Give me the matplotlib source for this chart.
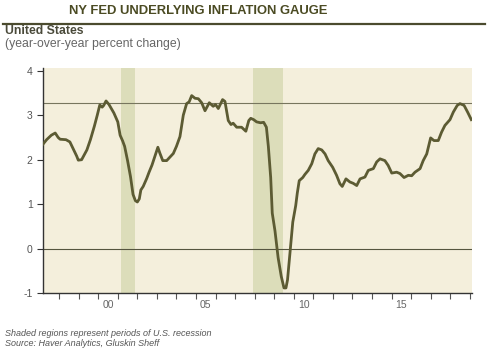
import matplotlib
matplotlib.use("Agg")
import matplotlib.pyplot as plt
from matplotlib.ticker import FixedLocator, NullFormatter, FixedFormatter

plt.rcParams['font.family'] = ['Liberation Sans Narrow', 'Liberation Sans', 'DejaVu Sans']

years = [1997.14, 1997.36, 1997.60, 1997.80, 1997.95, 1998.05, 1998.35, 1998.55, 1998.75, 1998.90,
         1998.98, 1999.15, 1999.30, 1999.42, 1999.60, 1999.80, 1999.95, 2000.08, 2000.20, 2000.28,
         2000.40, 2000.55, 2000.80, 2001.00, 2001.12, 2001.25, 2001.35, 2001.50, 2001.65, 2001.78,
         2001.90, 2002.00, 2002.10, 2002.18, 2002.30, 2002.48, 2002.60, 2002.75, 2002.90, 2003.05,
         2003.15, 2003.30, 2003.50, 2003.67, 2003.84, 2004.00, 2004.18, 2004.35, 2004.52, 2004.65,
         2004.78, 2004.95, 2005.12, 2005.29, 2005.46, 2005.68, 2005.88, 2006.00, 2006.14, 2006.36,
         2006.48, 2006.65, 2006.79, 2006.90, 2007.08, 2007.33, 2007.55, 2007.70, 2007.80, 2007.95,
         2008.10, 2008.30, 2008.46, 2008.60, 2008.70, 2008.82, 2008.90, 2009.04, 2009.20, 2009.36,
         2009.50, 2009.60, 2009.68, 2009.80, 2009.95, 2010.10, 2010.18, 2010.28, 2010.46, 2010.57,
         2010.74, 2010.92, 2011.08, 2011.25, 2011.43, 2011.60, 2011.76, 2011.99, 2012.19, 2012.36,
         2012.48, 2012.67, 2012.87, 2013.04, 2013.22, 2013.39, 2013.64, 2013.81, 2014.07, 2014.24,
         2014.41, 2014.66, 2014.83, 2015.01, 2015.26, 2015.43, 2015.64, 2015.86, 2016.03, 2016.20,
         2016.46, 2016.62, 2016.80, 2017.00, 2017.17, 2017.39, 2017.56, 2017.73, 2017.99, 2018.16,
         2018.36, 2018.50, 2018.71, 2018.89, 2019.08]
values = [2.33, 2.45, 2.55, 2.60, 2.50, 2.46, 2.45, 2.40, 2.22, 2.08,
          1.99, 2.00, 2.12, 2.22, 2.45, 2.75, 3.00, 3.23, 3.18, 3.22,
          3.32, 3.24, 3.05, 2.85, 2.55, 2.42, 2.30, 1.98, 1.62, 1.22,
          1.08, 1.05, 1.12, 1.32, 1.40, 1.58, 1.72, 1.88, 2.08, 2.28,
          2.15, 1.98, 1.98, 2.06, 2.14, 2.30, 2.52, 3.00, 3.26, 3.30,
          3.44, 3.38, 3.37, 3.28, 3.10, 3.28, 3.20, 3.24, 3.15, 3.35,
          3.31, 2.88, 2.79, 2.82, 2.73, 2.73, 2.64, 2.88, 2.93, 2.90,
          2.85, 2.83, 2.84, 2.73, 2.30, 1.60, 0.80, 0.40, -0.20, -0.62,
          -0.88, -0.88, -0.70, -0.13, 0.60, 0.97, 1.25, 1.53, 1.60, 1.67,
          1.76, 1.91, 2.13, 2.25, 2.22, 2.13, 1.98, 1.83, 1.65, 1.46,
          1.40, 1.57, 1.50, 1.47, 1.42, 1.57, 1.61, 1.76, 1.80, 1.95,
          2.02, 1.98, 1.87, 1.70, 1.72, 1.69, 1.60, 1.65, 1.64, 1.72,
          1.80, 1.98, 2.13, 2.49, 2.43, 2.43, 2.62, 2.77, 2.90, 3.07,
          3.22, 3.26, 3.22, 3.07, 2.90]

recessions = [(2001.17, 2001.88), (2007.92, 2009.45)]
ref_level = 3.28
yticks = [-1, 0, 1, 2, 3, 4]
xlabel_years = [2000, 2005, 2010, 2015]
xlabel_text = ['00', '05', '10', '15']
tick_years = list(range(1998, 2020))

fig = plt.figure(figsize=(4.88, 3.52), dpi=100)
fig.patch.set_facecolor('white')
ax = fig.add_axes([0.0871, 0.1668, 0.8795, 0.6400])
ax.set_facecolor('#F4EFDC')

for a, b in recessions:
    ax.axvspan(a, b, color='#DCDDBA', lw=0, zorder=1)
ax.axhline(ref_level, color='#77765E', lw=0.8, zorder=2)
ax.axhline(0, color='#55553F', lw=0.8, zorder=2)
ax.plot(years, values, color='#5C5B33', lw=2.0, zorder=3, solid_joinstyle='round')

ax.set_xlim(1997.15, 2019.1)
ax.set_ylim(-1, 4.06)
for s in ['top', 'right']:
    ax.spines[s].set_visible(False)
for s in ['left', 'bottom']:
    ax.spines[s].set_color('#333333')
    ax.spines[s].set_linewidth(1.0)

ax.yaxis.set_major_locator(FixedLocator(yticks))
ax.set_yticklabels([str(v) for v in yticks])
ax.tick_params(axis='y', direction='out', length=4, width=0.8, color='#333333',
               labelsize=7.5, labelcolor='#555555', pad=3)

ax.xaxis.set_major_locator(FixedLocator(tick_years))
ax.xaxis.set_major_formatter(NullFormatter())
ax.xaxis.set_minor_locator(FixedLocator([y + 0.5 for y in xlabel_years]))
ax.xaxis.set_minor_formatter(FixedFormatter(xlabel_text))
ax.tick_params(axis='x', which='major', direction='out', length=4, width=0.8, color='#555555')
ax.tick_params(axis='x', which='minor', length=0, labelsize=7.5, labelcolor='#666666', pad=5)

fig.text(198 / 488, 1 - 11 / 352, 'NY FED UNDERLYING INFLATION GAUGE', ha='center', va='center',
         fontsize=9.4, fontweight='bold', color='#4B4B23')
fig.add_artist(plt.Line2D([3 / 488, 485 / 488], [1 - 23.7 / 352] * 2, color='#4B4B2E', lw=1.6))
fig.text(5 / 488, 1 - 31 / 352, 'United States', ha='left', va='center',
         fontsize=8.8, fontweight='bold', color='#4A4A3A')
fig.text(5 / 488, 1 - 44 / 352, '(year-over-year percent change)', ha='left', va='center',
         fontsize=8.8, color='#666666')
fig.text(5 / 488, 1 - 333 / 352, 'Shaded regions represent periods of U.S. recession', ha='left',
         va='center', fontsize=6.5, style='italic', color='#555555')
fig.text(5 / 488, 1 - 344 / 352, 'Source: Haver Analytics, Gluskin Sheff', ha='left',
         va='center', fontsize=6.5, style='italic', color='#555555')

fig.savefig('out.png', dpi=100, facecolor='white')
